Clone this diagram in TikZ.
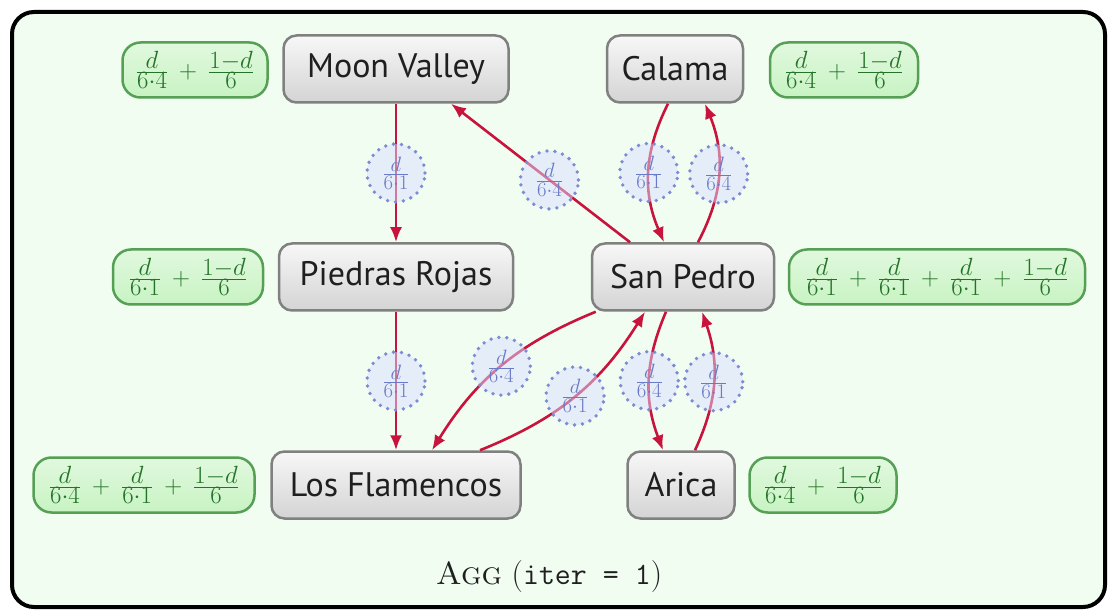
\documentclass[tikz,border=0pt]{standalone}
\usepackage{fontspec}
\setsansfont{PT Sans}
\usetikzlibrary{arrows.meta}

\definecolor{framebg}{RGB}{242,253,242}
\definecolor{edgered}{RGB}{200,20,60}
\definecolor{boxline}{RGB}{128,128,128}
\definecolor{anntext}{RGB}{35,115,40}
\definecolor{annline}{RGB}{85,160,85}
\definecolor{annfill}{RGB}{200,243,195}
\definecolor{labline}{RGB}{125,140,210}
\definecolor{labfill}{RGB}{218,222,255}
\definecolor{labtext}{RGB}{105,122,200}

% sums of shares, with roomier spacing around the plus signs
\newcommand{\scoresum}[1]{{\medmuskip=8mu\relax$#1$}}

\tikzset{
  place/.style={draw=boxline, line width=2.5pt, rounded corners=13pt,
    top color=black!3, bottom color=black!17, text=black!88,
    font=\sffamily\fontsize{34}{40}\selectfont,
    minimum height=67pt, inner sep=0pt},
  ann/.style={draw=annline, line width=2.5pt, rounded corners=18pt,
    top color=annfill!55!white, bottom color=annfill, text=anntext,
    font=\fontsize{34}{40}\selectfont,
    minimum height=55pt, inner sep=0pt},
  share/.style={circle, draw=labline, line width=3.8pt, line cap=round,
    dash pattern=on 0pt off 8pt, fill=labfill, fill opacity=0.5,
    text opacity=1, text=labtext, minimum size=58pt, inner sep=0pt,
    font=\fontsize{28}{32}\selectfont},
  link/.style={draw=edgered, line width=2.6pt,
    -{Latex[length=15pt,width=12pt]}},
}

\begin{document}
\begin{tikzpicture}[x=1pt,y=-1pt]
  \useasboundingbox (0,0) rectangle (1111,612);
  % frame
  \draw[line width=4pt, rounded corners=22pt, fill=framebg] (12,12) rectangle (1105,607);

  % places
  \node[place, minimum width=225pt] (mv) at (396,69) {Moon Valley};
  \node[place, minimum width=136pt] (cal) at (675,69) {Calama};
  \node[place, minimum width=234pt] (pr) at (396,277) {Piedras Rojas};
  \node[place, minimum width=182pt] (sp) at (683,277) {San Pedro};
  \node[place, minimum width=249pt] (lf) at (396,485) {Los Flamencos};
  \node[place, minimum width=107pt] (ar) at (681,485) {Arica};

  % aggregated scores
  \node[ann, minimum width=145pt] (mvA) at (195,70) {\scoresum{\frac{d}{6\cdot4}+\frac{1-d}{6}}};
  \node[ann, minimum width=148pt] (calA) at (844,70) {\scoresum{\frac{d}{6\cdot4}+\frac{1-d}{6}}};
  \node[ann, minimum width=150pt] (prA) at (188,277) {\scoresum{\frac{d}{6\cdot1}+\frac{1-d}{6}}};
  \node[ann, minimum width=296pt] (spA) at (937,277) {\scoresum{\frac{d}{6\cdot1}+\frac{d}{6\cdot1}+\frac{d}{6\cdot1}+\frac{1-d}{6}}};
  \node[ann, minimum width=221pt] (lfA) at (144,485) {\scoresum{\frac{d}{6\cdot4}+\frac{d}{6\cdot1}+\frac{1-d}{6}}};
  \node[ann, minimum width=147pt] (arA) at (823,485) {\scoresum{\frac{d}{6\cdot4}+\frac{1-d}{6}}};

  % links with their shares
  \draw[link] (mv) -- node[share] {$\frac{d}{6\cdot1}$} (pr);
  \draw[link] (pr) -- node[share] {$\frac{d}{6\cdot1}$} (lf);
  \draw[link] ([xshift=-53]sp.north) -- node[share, pos=0.45] {$\frac{d}{6\cdot4}$} ([xshift=55]mv.south);
  \draw[link] ([xshift=-7]cal.south) to[bend right=25] node[share] {$\frac{d}{6\cdot1}$} ([xshift=-19]sp.north);
  \draw[link] ([xshift=15]sp.north) to[bend right=25] node[share] {$\frac{d}{6\cdot4}$} ([xshift=30]cal.south);
  \draw[link] ([xshift=5]sp.south west) to[bend right=18] node[share] {$\frac{d}{6\cdot4}$} ([xshift=36]lf.north);
  \draw[link] ([xshift=84]lf.north) to[bend right=18] node[share] {$\frac{d}{6\cdot1}$} ([xshift=-38]sp.south);
  \draw[link] ([xshift=-17]sp.south) to[bend right=22] node[share] {$\frac{d}{6\cdot4}$} ([xshift=-18]ar.north);
  \draw[link] ([xshift=14]ar.north) to[bend right=22] node[share] {$\frac{d}{6\cdot1}$} ([xshift=19]sp.south);

  % caption
  \node[text=black!88, font=\fontsize{32}{38}\selectfont] (title) at (549,577)
    {\textsc{Agg} ({\fontsize{31}{36}\selectfont\texttt{iter = 1}})};
\end{tikzpicture}
\end{document}
